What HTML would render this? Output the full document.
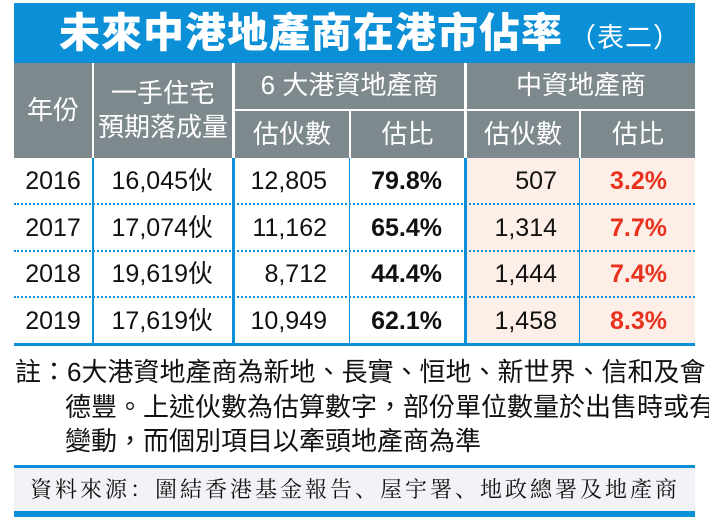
<!DOCTYPE html>
<html><head><meta charset="utf-8"><style>
*{margin:0;padding:0;box-sizing:border-box}
body{width:709px;height:525px;background:#fff;position:relative;overflow:hidden;font-family:"Liberation Sans","Noto Sans CJK TC",sans-serif;color:#111}
.a{position:absolute}
.title{left:14px;top:3px;width:681px;height:60px;background:#0b8fd6;color:#fff;font-size:41px;font-weight:900;line-height:60px;padding-left:45px;letter-spacing:1px}
.title span{font-size:27px;font-weight:normal;margin-left:6px}
.hdr{background:#7e898e;color:#fff;font-size:26px;text-align:center;display:flex;align-items:center;justify-content:center;line-height:1.3}
.cell{font-size:25px;height:46px;line-height:46px;text-align:right}
.pink{background:#fdeee8}
.vl{background:#0b8fd6}
.dot{border-top:2px dotted #0b8fd6;height:0}
</style></head><body>
<div class="a title">未來中港地產商在港市佔率<span>（表二）</span></div>
<div class="a hdr" style="left:14px;top:63px;width:78px;height:95px">年份</div>
<div class="a hdr" style="left:94px;top:63px;width:138px;height:95px">一手住宅<br>預期落成量</div>
<div class="a hdr" style="left:235px;top:63px;width:229px;height:46px">6 大港資地產商</div>
<div class="a hdr" style="left:467px;top:63px;width:228px;height:46px">中資地產商</div>
<div class="a hdr" style="left:235px;top:111px;width:114px;height:47px">估伙數</div>
<div class="a hdr" style="left:351px;top:111px;width:113px;height:47px">估比</div>
<div class="a hdr" style="left:467px;top:111px;width:112px;height:47px">估伙數</div>
<div class="a hdr" style="left:581px;top:111px;width:114px;height:47px">估比</div>
<div class="a pink" style="left:466px;top:158px;width:229px;height:186px"></div>
<div id="rows"></div>
<div class="a vl" style="left:92px;top:158px;width:2px;height:186px"></div>
<div class="a vl" style="left:232px;top:158px;width:3px;height:186px"></div>
<div class="a vl" style="left:349px;top:158px;width:1px;height:186px"></div>
<div class="a vl" style="left:464px;top:158px;width:3px;height:186px"></div>
<div class="a vl" style="left:579px;top:158px;width:1px;height:186px"></div>
<div class="a vl" style="left:14px;top:343px;width:681px;height:3px"></div>
<div class="a" style="left:15px;top:355px;width:694px;font-size:26px;line-height:34.5px;white-space:nowrap">
<div>註：6大港資地產商為新地、長實、恒地、新世界、信和及會</div>
<div style="padding-left:50px">德豐。上述伙數為估算數字，部份單位數量於出售時或有</div>
<div style="padding-left:50px">變動，而個別項目以牽頭地產商為準</div></div>
<div class="a vl" style="left:14px;top:465px;width:681px;height:3px"></div>
<div class="a" style="left:14px;top:468px;width:681px;height:43px;background:#f3f3f7;font-family:'Liberation Serif','Noto Serif CJK SC',serif;font-size:22px;line-height:43px;padding-left:16px;letter-spacing:3px;white-space:nowrap">資料來源：圍結香港基金報告、屋宇署、地政總署及地產商</div>
<div class="a vl" style="left:14px;top:511px;width:681px;height:6px"></div>
<script>
const years=["2016","2017","2018","2019"];
const completions=["16,045伙","17,074伙","19,619伙","17,619伙"];
const hkUnits=["12,805","11,162","8,712","10,949"];
const hkShare=["79.8%","65.4%","44.4%","62.1%"];
const cnUnits=["507","1,314","1,444","1,458"];
const cnShare=["3.2%","7.7%","7.4%","8.3%"];
const rows=document.getElementById('rows');
const cols=[[14,78,'center',''],[94,119,'right',''],[235,92,'right',''],[351,91,'right','b'],[467,90,'right',''],[581,86,'right','r']];
years.forEach((y,i)=>{
 const top=158+i*46.5;
 const vals=[y,completions[i],hkUnits[i],hkShare[i],cnUnits[i],cnShare[i]];
 cols.forEach((c,j)=>{
  const d=document.createElement('div');
  
  
  d.className='a cell';
  d.style.left=c[0]+'px';d.style.top=top+'px';d.style.width=c[1]+'px';d.style.textAlign=c[2];
  if(c[3]==='b')d.style.fontWeight='bold';
  if(c[3]==='r'){d.style.color='#e8321e';d.style.fontWeight='bold';}
  d.textContent=vals[j];
  rows.appendChild(d);
 });
 if(i<years.length-1){
  const l=document.createElement('div');
  
  
  l.className='a dot';
  l.style.left='14px';l.style.top=(top+45)+'px';l.style.width='681px';
  rows.appendChild(l);
 }
});
</script>
</body></html>
